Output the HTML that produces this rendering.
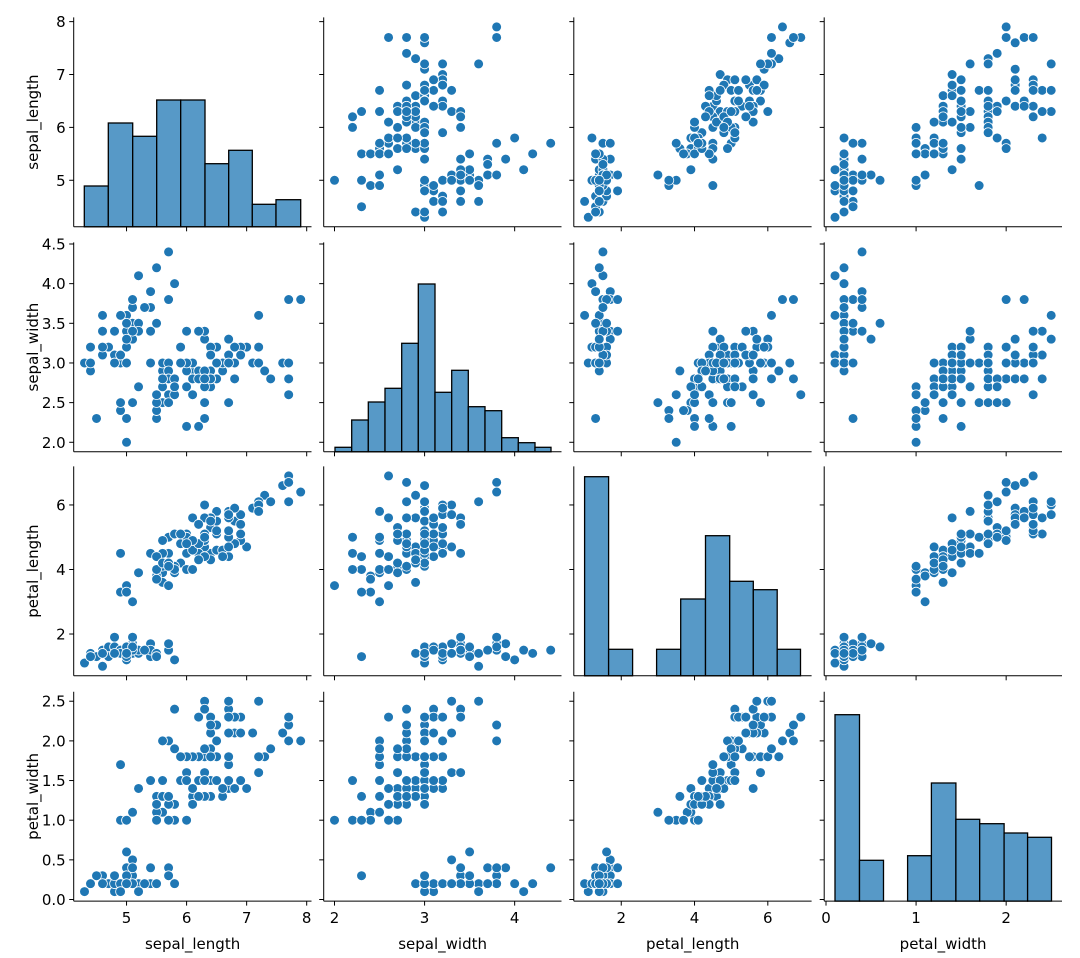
<!DOCTYPE html>
<html><head><meta charset="utf-8"><style>
html,body{margin:0;padding:0;background:#fff;}
svg{display:block;font-family:"DejaVu Sans","Liberation Sans",sans-serif;}
</style></head><body>
<svg id="s" width="1080" height="958" viewBox="0 0 1080 958" xmlns="http://www.w3.org/2000/svg"></svg>
<script>
const D=`5.1,3.5,1.4,0.2;4.9,3.0,1.4,0.2;4.7,3.2,1.3,0.2;4.6,3.1,1.5,0.2;5.0,3.6,1.4,0.2;5.4,3.9,1.7,0.4;4.6,3.4,1.4,0.3;5.0,3.4,1.5,0.2;4.4,2.9,1.4,0.2;4.9,3.1,1.5,0.1;5.4,3.7,1.5,0.2;4.8,3.4,1.6,0.2;4.8,3.0,1.4,0.1;4.3,3.0,1.1,0.1;5.8,4.0,1.2,0.2;5.7,4.4,1.5,0.4;5.4,3.9,1.3,0.4;5.1,3.5,1.4,0.3;5.7,3.8,1.7,0.3;5.1,3.8,1.5,0.3;5.4,3.4,1.7,0.2;5.1,3.7,1.5,0.4;4.6,3.6,1.0,0.2;5.1,3.3,1.7,0.5;4.8,3.4,1.9,0.2;5.0,3.0,1.6,0.2;5.0,3.4,1.6,0.4;5.2,3.5,1.5,0.2;5.2,3.4,1.4,0.2;4.7,3.2,1.6,0.2;4.8,3.1,1.6,0.2;5.4,3.4,1.5,0.4;5.2,4.1,1.5,0.1;5.5,4.2,1.4,0.2;4.9,3.1,1.5,0.2;5.0,3.2,1.2,0.2;5.5,3.5,1.3,0.2;4.9,3.6,1.4,0.1;4.4,3.0,1.3,0.2;5.1,3.4,1.5,0.2;5.0,3.5,1.3,0.3;4.5,2.3,1.3,0.3;4.4,3.2,1.3,0.2;5.0,3.5,1.6,0.6;5.1,3.8,1.9,0.4;4.8,3.0,1.4,0.3;5.1,3.8,1.6,0.2;4.6,3.2,1.4,0.2;5.3,3.7,1.5,0.2;5.0,3.3,1.4,0.2;7.0,3.2,4.7,1.4;6.4,3.2,4.5,1.5;6.9,3.1,4.9,1.5;5.5,2.3,4.0,1.3;6.5,2.8,4.6,1.5;5.7,2.8,4.5,1.3;6.3,3.3,4.7,1.6;4.9,2.4,3.3,1.0;6.6,2.9,4.6,1.3;5.2,2.7,3.9,1.4;5.0,2.0,3.5,1.0;5.9,3.0,4.2,1.5;6.0,2.2,4.0,1.0;6.1,2.9,4.7,1.4;5.6,2.9,3.6,1.3;6.7,3.1,4.4,1.4;5.6,3.0,4.5,1.5;5.8,2.7,4.1,1.0;6.2,2.2,4.5,1.5;5.6,2.5,3.9,1.1;5.9,3.2,4.8,1.8;6.1,2.8,4.0,1.3;6.3,2.5,4.9,1.5;6.1,2.8,4.7,1.2;6.4,2.9,4.3,1.3;6.6,3.0,4.4,1.4;6.8,2.8,4.8,1.4;6.7,3.0,5.0,1.7;6.0,2.9,4.5,1.5;5.7,2.6,3.5,1.0;5.5,2.4,3.8,1.1;5.5,2.4,3.7,1.0;5.8,2.7,3.9,1.2;6.0,2.7,5.1,1.6;5.4,3.0,4.5,1.5;6.0,3.4,4.5,1.6;6.7,3.1,4.7,1.5;6.3,2.3,4.4,1.3;5.6,3.0,4.1,1.3;5.5,2.5,4.0,1.3;5.5,2.6,4.4,1.2;6.1,3.0,4.6,1.4;5.8,2.6,4.0,1.2;5.0,2.3,3.3,1.0;5.6,2.7,4.2,1.3;5.7,3.0,4.2,1.2;5.7,2.9,4.2,1.3;6.2,2.9,4.3,1.3;5.1,2.5,3.0,1.1;5.7,2.8,4.1,1.3;6.3,3.3,6.0,2.5;5.8,2.7,5.1,1.9;7.1,3.0,5.9,2.1;6.3,2.9,5.6,1.8;6.5,3.0,5.8,2.2;7.6,3.0,6.6,2.1;4.9,2.5,4.5,1.7;7.3,2.9,6.3,1.8;6.7,2.5,5.8,1.8;7.2,3.6,6.1,2.5;6.5,3.2,5.1,2.0;6.4,2.7,5.3,1.9;6.8,3.0,5.5,2.1;5.7,2.5,5.0,2.0;5.8,2.8,5.1,2.4;6.4,3.2,5.3,2.3;6.5,3.0,5.5,1.8;7.7,3.8,6.7,2.2;7.7,2.6,6.9,2.3;6.0,2.2,5.0,1.5;6.9,3.2,5.7,2.3;5.6,2.8,4.9,2.0;7.7,2.8,6.7,2.0;6.3,2.7,4.9,1.8;6.7,3.3,5.7,2.1;7.2,3.2,6.0,1.8;6.2,2.8,4.8,1.8;6.1,3.0,4.9,1.8;6.4,2.8,5.6,2.1;7.2,3.0,5.8,1.6;7.4,2.8,6.1,1.9;7.9,3.8,6.4,2.0;6.4,2.8,5.6,2.2;6.3,2.8,5.1,1.5;6.1,2.6,5.6,1.4;7.7,3.0,6.1,2.3;6.3,3.4,5.6,2.4;6.4,3.1,5.5,1.8;6.0,3.0,4.8,1.8;6.9,3.1,5.4,2.1;6.7,3.1,5.6,2.4;6.9,3.1,5.1,2.3;5.8,2.7,5.1,1.9;6.8,3.2,5.9,2.3;6.7,3.3,5.7,2.5;6.7,3.0,5.2,2.3;6.3,2.5,5.0,1.9;6.5,3.0,5.2,2.0;6.2,3.4,5.4,2.3;5.9,3.0,5.1,1.8`.split(';').map(r=>r.split(',').map(Number));
const names=['sepal_length','sepal_width','petal_length','petal_width'];
const lim=[[4.12,8.08],[1.88,4.52],[0.705,7.195],[-0.02,2.62]];
const colL=[73.7,323.7,573.8,824.2], W=237.8;
const rowT=[17.4,242.4,466.4,691.7], H=209.4;
const xt=[[5,6,7,8],[2,3,4],[2,4,6],[0,1,2]];
const xtl=[['5','6','7','8'],['2','3','4'],['2','4','6'],['0','1','2']];
const yt=[[5,6,7,8],[2,2.5,3,3.5,4,4.5],[2,4,6],[0,0.5,1,1.5,2,2.5]];
const ytl=[['5','6','7','8'],['2.0','2.5','3.0','3.5','4.0','4.5'],['2','4','6'],['0.0','0.5','1.0','1.5','2.0','2.5']];
const X=(c,v)=>colL[c]+(v-lim[c][0])/(lim[c][1]-lim[c][0])*W;
const Y=(r,v)=>rowT[r]+H-(v-lim[r][0])/(lim[r][1]-lim[r][0])*H;
const hist={
0:{e:[84.3,108.3,132.7,156.7,180.7,205,228.7,252.3,276,300.7],t:[186,123,136.3,100,100,163.7,150.3,204.3,199.7]},
1:{e:[335,351.7,368.3,385,401.7,418.3,435,451.7,468.3,485,501.7,518.3,535,551],t:[447.3,420,402,388.3,343.3,284,392.3,370.3,406.7,410.7,437.7,442.7,447.3]},
2:{e:[584.6,608.6,632.6,656.6,680.7,705.5,729.7,753.3,777.2,800.5],t:[476.7,649.3,null,649.3,599,535.7,581.3,589.7,649.3]},
3:{e:[835,859.5,883.5,907.6,931.4,955.9,979.7,1004.1,1027.6,1051.5],t:[714.7,860.3,null,855.7,783,819.3,823.7,833,837.3]}
};
let s='';
for(let r=0;r<4;r++){for(let c=0;c<4;c++){
 const x0=colL[c],y0=rowT[r],yb=y0+H;
 if(r===c){
  const h=hist[r];
  for(let i=0;i<h.t.length;i++){ if(h.t[i]==null) continue;
   s+=`<rect x="${h.e[i]}" y="${h.t[i]}" width="${h.e[i+1]-h.e[i]}" height="${yb-h.t[i]}" fill="#5799c7" stroke="#000" stroke-width="1.3"/>`;}
 } else {
  for(const d of D){ s+=`<circle cx="${X(c,d[c]).toFixed(2)}" cy="${Y(r,d[r]).toFixed(2)}" r="4.9" fill="#1f77b4" stroke="#fff" stroke-width="0.8"/>`;}
 }
 s+=`<line x1="${x0}" y1="${y0}" x2="${x0}" y2="${yb}" stroke="#000" stroke-width="1"/>`;
 s+=`<line x1="${x0}" y1="${yb}" x2="${x0+W}" y2="${yb}" stroke="#000" stroke-width="1"/>`;
 for(let i=0;i<yt[r].length;i++){const y=Y(r,yt[r][i]);
  s+=`<line x1="${x0-4.5}" y1="${y}" x2="${x0}" y2="${y}" stroke="#000" stroke-width="1"/>`;
  if(c===0) s+=`<text x="${x0-8}" y="${y+5.5}" font-size="15" text-anchor="end" fill="#000">${ytl[r][i]}</text>`;}
 for(let i=0;i<xt[c].length;i++){const x=X(c,xt[c][i]);
  s+=`<line x1="${x}" y1="${yb}" x2="${x}" y2="${yb+4.5}" stroke="#000" stroke-width="1"/>`;
  if(r===3) s+=`<text x="${x}" y="${yb+22}" font-size="15" text-anchor="middle" fill="#000">${xtl[c][i]}</text>`;}
}}
for(let r=0;r<4;r++){const cy=rowT[r]+H/2;
 s+=`<text transform="translate(38,${cy}) rotate(-90)" font-size="15" text-anchor="middle" fill="#000">${names[r]}</text>`;}
for(let c=0;c<4;c++){
 s+=`<text x="${colL[c]+W/2}" y="949" font-size="15" text-anchor="middle" fill="#000">${names[c]}</text>`;}
document.getElementById('s').innerHTML=s;
</script>
</body></html>
